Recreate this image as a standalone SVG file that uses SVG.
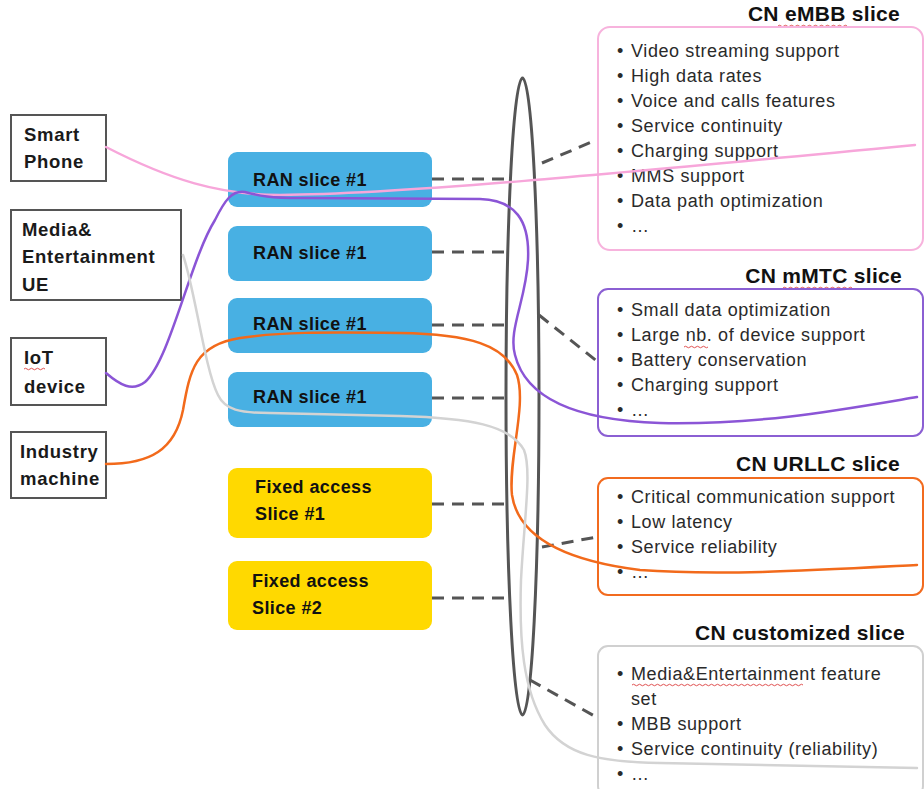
<svg xmlns="http://www.w3.org/2000/svg" width="924" height="789" viewBox="0 0 924 789">
  <style>
    .dev rect { fill: #ffffff; stroke: #555555; stroke-width: 2; }
    .dev text { font-family: "Liberation Sans", Arial, sans-serif; font-weight: bold; font-size: 18.5px; letter-spacing: 0.7px; fill: #1a1a1a; }
    .ran rect { fill: #48B0E3; }
    .fixed rect { fill: #FFD900; }
    .slice text { font-family: "Liberation Sans", Arial, sans-serif; font-weight: bold; font-size: 18px; letter-spacing: 0.4px; fill: #111111; }
    .cn rect { fill: #ffffff; stroke-width: 2; }
    .cn .title { font-family: "Liberation Sans", Arial, sans-serif; font-weight: bold; font-size: 21px; letter-spacing: 0.3px; fill: #111111; text-anchor: end; }
    .cn .item { font-family: "Liberation Sans", Arial, sans-serif; font-size: 18px; letter-spacing: 0.6px; fill: #2a2a2a; }
    .cn .dot { font-family: "Liberation Sans", Arial, sans-serif; font-size: 18px; fill: #2a2a2a; }
    .dash { fill: none; stroke: #555555; stroke-width: 3; stroke-dasharray: 12 8; }
    .flow { fill: none; stroke-width: 2.5; stroke-linecap: round; }
    .spell { fill: none; stroke: #e05050; stroke-width: 1; }
  </style>

  <!-- user equipment -->
  <g id="smart-phone" class="dev">
    <rect x="11" y="115" width="95" height="66"/>
    <text x="24" y="141">Smart</text>
    <text x="24" y="168">Phone</text>
  </g>
  <g id="media-ue" class="dev">
    <rect x="11" y="210" width="170" height="90"/>
    <text x="22" y="236">Media&amp;</text>
    <text x="22" y="263">Entertainment</text>
    <text x="22" y="291">UE</text>
  </g>
  <g id="iot-device" class="dev">
    <rect x="11" y="338" width="95" height="67"/>
    <text x="24" y="364">IoT</text>
    <text x="24" y="393">device</text>
    <path class="spell" d="M24,369 q1.5,-1.5 3,0 t3,0 t3,0 t3,0 t3,0 t3,0 t3,0"/>
  </g>
  <g id="industry-machine" class="dev">
    <rect x="11" y="432" width="95" height="66"/>
    <text x="20" y="458">Industry</text>
    <text x="20" y="485">machine</text>
  </g>

  <!-- access network slices -->
  <g id="ran-1" class="slice ran">
    <rect x="228" y="152" width="204" height="55" rx="9"/>
    <text x="253" y="186">RAN slice #1</text>
  </g>
  <g id="ran-2" class="slice ran">
    <rect x="228" y="226" width="204" height="55" rx="9"/>
    <text x="253" y="259">RAN slice #1</text>
  </g>
  <g id="ran-3" class="slice ran">
    <rect x="228" y="298" width="204" height="55" rx="9"/>
    <text x="253" y="330">RAN slice #1</text>
  </g>
  <g id="ran-4" class="slice ran">
    <rect x="228" y="372" width="204" height="55" rx="9"/>
    <text x="253" y="403">RAN slice #1</text>
  </g>
  <g id="fixed-1" class="slice fixed">
    <rect x="228" y="468" width="204" height="70" rx="9"/>
    <text x="255" y="493">Fixed access</text>
    <text x="255" y="520">Slice #1</text>
  </g>
  <g id="fixed-2" class="slice fixed">
    <rect x="228" y="561" width="204" height="69" rx="9"/>
    <text x="252" y="587">Fixed access</text>
    <text x="252" y="614">Slice #2</text>
  </g>

  <!-- core network slices -->
  <g id="cn-embb" class="cn">
    <text class="title" x="900" y="21">CN eMBB slice</text>
    <path class="spell" d="M778,26 q1.5,-1.5 3,0 t3,0 t3,0 t3,0 t3,0 t3,0 t3,0 t3,0 t3,0 t3,0 t3,0 t3,0 t3,0 t3,0 t3,0 t3,0 t3,0 t3,0 t3,0 t3,0 t3,0 t3,0 t3,0"/>
    <rect x="598" y="27" width="325" height="223" rx="12" stroke="#F7B3DD"/>
    <g class="dot">
      <text x="617" y="57">•</text><text x="617" y="82">•</text><text x="617" y="107">•</text><text x="617" y="132">•</text>
      <text x="617" y="157">•</text><text x="617" y="182">•</text><text x="617" y="207">•</text><text x="617" y="232">•</text>
    </g>
    <text class="item" x="631" y="57">Video streaming support</text>
    <text class="item" x="631" y="82">High data rates</text>
    <text class="item" x="631" y="107">Voice and calls features</text>
    <text class="item" x="631" y="132">Service continuity</text>
    <text class="item" x="631" y="157">Charging support</text>
    <text class="item" x="631" y="182">MMS support</text>
    <text class="item" x="631" y="207">Data path optimization</text>
    <text class="item" x="631" y="232">…</text>
  </g>
  <g id="cn-mmtc" class="cn">
    <text class="title" x="902" y="283">CN mMTC slice</text>
    <path class="spell" d="M783,288 q1.5,-1.5 3,0 t3,0 t3,0 t3,0 t3,0 t3,0 t3,0 t3,0 t3,0 t3,0 t3,0 t3,0 t3,0 t3,0 t3,0 t3,0 t3,0 t3,0 t3,0 t3,0 t3,0 t3,0 t3,0"/>
    <rect x="598" y="289" width="325" height="147" rx="10" stroke="#8B5FD3"/>
    <g class="dot">
      <text x="617" y="316">•</text><text x="617" y="341">•</text><text x="617" y="366">•</text>
      <text x="617" y="391">•</text><text x="617" y="416">•</text>
    </g>
    <text class="item" x="631" y="316">Small data optimization</text>
    <text class="item" x="631" y="341">Large nb. of device support</text>
    <path class="spell" d="M684,347 q1.5,-1.5 3,0 t3,0 t3,0 t3,0 t3,0 t3,0 t3,0 t3,0"/>
    <text class="item" x="631" y="366">Battery conservation</text>
    <text class="item" x="631" y="391">Charging support</text>
    <text class="item" x="631" y="416">…</text>
  </g>
  <g id="cn-urllc" class="cn">
    <text class="title" x="900" y="471">CN URLLC slice</text>
    <rect x="598" y="478" width="325" height="117" rx="10" stroke="#F26B1F"/>
    <g class="dot">
      <text x="617" y="503">•</text><text x="617" y="528">•</text><text x="617" y="553">•</text><text x="617" y="578">•</text>
    </g>
    <text class="item" x="631" y="503">Critical communication support</text>
    <text class="item" x="631" y="528">Low latency</text>
    <text class="item" x="631" y="553">Service reliability</text>
    <text class="item" x="631" y="578">…</text>
  </g>
  <g id="cn-customized" class="cn">
    <text class="title" x="905" y="640">CN customized slice</text>
    <rect x="598" y="646" width="325" height="150" rx="10" stroke="#D0D0D0"/>
    <g class="dot">
      <text x="617" y="680">•</text><text x="617" y="730">•</text><text x="617" y="755">•</text><text x="617" y="780">•</text>
    </g>
    <text class="item" x="631" y="680">Media&amp;Entertainment feature</text>
    <path class="spell" d="M632,685 q1.5,-1.5 3,0 t3,0 t3,0 t3,0 t3,0 t3,0 t3,0 t3,0 t3,0 t3,0 t3,0 t3,0 t3,0 t3,0 t3,0 t3,0 t3,0 t3,0 t3,0 t3,0 t3,0 t3,0 t3,0 t3,0 t3,0 t3,0 t3,0 t3,0 t3,0 t3,0 t3,0 t3,0 t3,0 t3,0 t3,0 t3,0 t3,0 t3,0 t3,0 t3,0 t3,0 t3,0 t3,0 t3,0 t3,0 t3,0 t3,0 t3,0 t3,0 t3,0 t3,0 t3,0 t3,0 t3,0 t3,0 t3,0 t3,0"/>
    <text class="item" x="631" y="705">set</text>
    <text class="item" x="631" y="730">MBB support</text>
    <text class="item" x="631" y="755">Service continuity (reliability)</text>
    <text class="item" x="631" y="780">…</text>
  </g>

  <!-- transport bundle and dashed attachments -->
  <g id="connectors">
    <ellipse id="transport" cx="522.5" cy="396.5" rx="16.5" ry="318.5" fill="none" stroke="#555555" stroke-width="3"/>
    <path class="dash" d="M432,179 H507"/>
    <path class="dash" d="M432,252 H507"/>
    <path class="dash" d="M432,325 H507"/>
    <path class="dash" d="M432,398 H507"/>
    <path class="dash" d="M432,504 H507"/>
    <path class="dash" d="M432,598 H507"/>
    <path class="dash" d="M542,163 L594,141"/>
    <path class="dash" d="M539,315 L598,362"/>
    <path class="dash" d="M542,547 L597,537"/>
    <path class="dash" d="M530,680 L598,718"/>

    <!-- end-to-end flows -->
    <path class="flow" stroke="#F7A6DA" d="M106,147 C170,180 220,195 280,195 C400,194 600,175 915,145"/>
    <path class="flow" stroke="#8B55D6" d="M106,373 C120,385 132,392 145,382 C170,360 190,260 215,220 C225,200 232,190 245,192 C260,196 270,198 300,198 L480,199 C515,200 530,220 528,260 C526,300 508,330 515,355 C525,395 570,420 660,423 C760,425 840,410 917,397"/>
    <path class="flow" stroke="#F26A1B" d="M106,464 C150,464 175,450 183,410 C190,370 195,345 240,338 C280,332 320,332 400,333 C470,334 505,345 517,375 C527,405 508,460 512,495 C518,535 560,560 640,570 C720,576 820,570 917,565"/>
    <path class="flow" stroke="#D3D3D3" d="M183,255 C195,290 205,370 218,395 C225,410 240,413 270,413 L400,416 C470,418 510,425 524,450 C532,470 524,520 521,580 C519,640 523,690 545,725 C565,755 600,762 660,763 C760,765 840,767 917,768"/>
  </g>
</svg>
